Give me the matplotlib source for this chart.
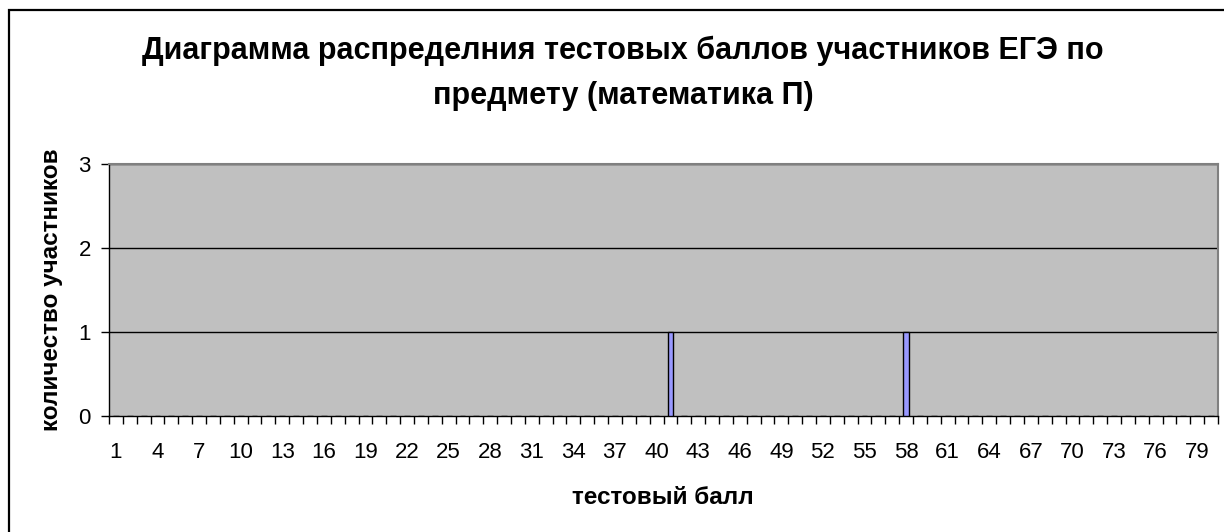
import matplotlib
matplotlib.use("Agg")
import matplotlib.pyplot as plt
from matplotlib.patches import Rectangle

plt.rcParams['font.family'] = ['Liberation Sans', 'DejaVu Sans']

categories = list(range(1, 81))
counts = [0] * 80
counts[41 - 1] = 1
counts[58 - 1] = 1
y_ticks = [0, 1, 2, 3]
title = "Диаграмма распределния тестовых баллов участников ЕГЭ по\nпредмету (математика П)"
xlabel = "тестовый балл"
ylabel = "количество участников"

W, H = 1224, 532
fig = plt.figure(figsize=(W / 100, H / 100), dpi=100)
fig.patch.set_facecolor('white')

# chart border
fig.add_artist(Rectangle((9 / W, -0.1), 1.2, 1 - 10 / H + 0.1, transform=fig.transFigure,
                         fill=False, edgecolor='black', linewidth=1.6))

ax = fig.add_axes([109 / W, 1 - 416 / H, (1218 - 109) / W, (416 - 164) / H])
ax.set_facecolor('#C0C0C0')
x = list(range(len(categories)))
ax.bar(x, counts, width=0.42, color='#9999FF', edgecolor='black', linewidth=1.0, zorder=3)
ax.set_xlim(-0.5, len(categories) - 0.5)
ax.set_ylim(0, 3)
ax.set_yticks(y_ticks)
ax.set_yticklabels([str(v) for v in y_ticks], fontsize=16)
for v in y_ticks[1:]:
    ax.axhline(v, color='black', linewidth=1.0, zorder=2)

ax.set_xticks(x[::3])
ax.set_xticklabels([str(categories[i]) for i in x[::3]], fontsize=16)
ax.tick_params(axis='x', which='major', length=0, pad=19)
ax.set_xticks([i - 0.5 for i in range(len(categories) + 1)], minor=True)
ax.tick_params(axis='x', which='minor', length=6, width=1, color='black', direction='out')
ax.tick_params(axis='y', length=6, width=1, color='black', direction='out', pad=7)

for s in ['top', 'right']:
    ax.spines[s].set_color('#808080')
    ax.spines[s].set_linewidth(1.5)
for s in ['left', 'bottom']:
    ax.spines[s].set_color('black')
    ax.spines[s].set_linewidth(1.0)

fig.text(623 / W, 1 - 73.5 / H, title, ha='center', va='center',
         fontsize=22, fontweight='bold', linespacing=1.63)
fig.text(663 / W, 1 - 497 / H, xlabel, ha='center', va='center',
         fontsize=17.5, fontweight='bold')
fig.text(52 / W, 1 - 290 / H, ylabel, ha='center', va='center', rotation=90,
         fontsize=17.5, fontweight='bold')

fig.savefig("out.png", dpi=100)
